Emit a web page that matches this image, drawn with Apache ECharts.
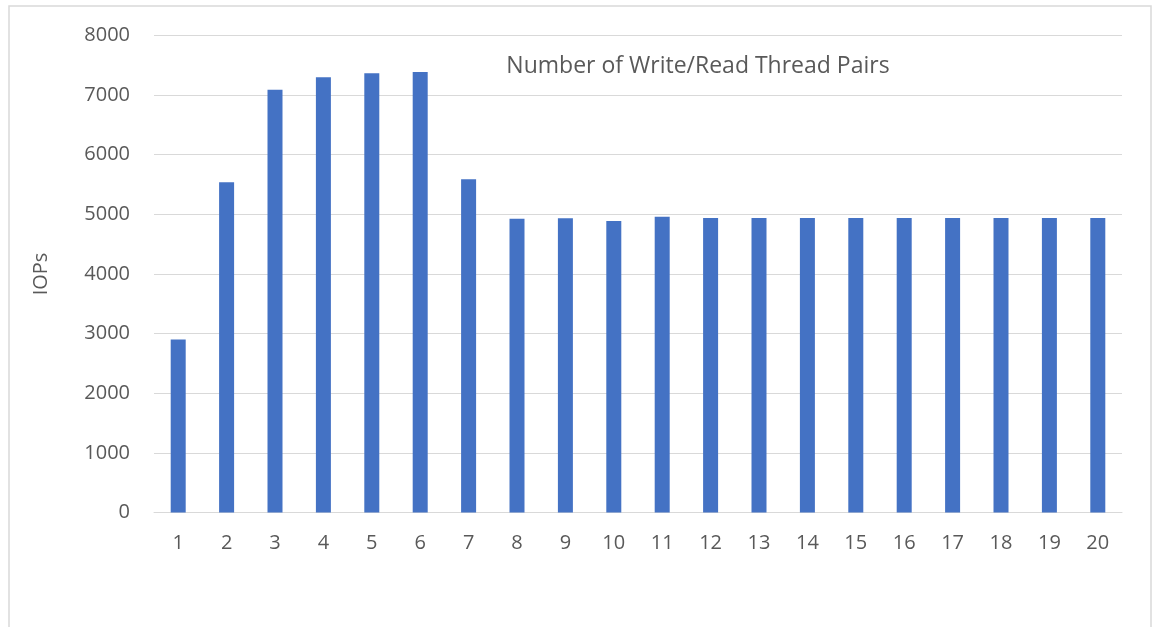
<!DOCTYPE html>
<html>
<head>
<meta charset="utf-8">
<script src="https://cdn.jsdelivr.net/npm/echarts@6/dist/echarts.min.js"></script>
<style>
html,body{margin:0;padding:0;background:#fff;}
#c{width:1152px;height:627px;}
</style>
</head>
<body>
<div id="c"></div>
<script>
const categories = ['1','2','3','4','5','6','7','8','9','10','11','12','13','14','15','16','17','18','19','20'];
const iops = [2900, 5540, 7090, 7300, 7365, 7385, 5590, 4925, 4935, 4890, 4960, 4940, 4940, 4940, 4940, 4940, 4940, 4940, 4940, 4940];
const yTicks = { min: 0, max: 8000, interval: 1000 };
const chartTitle = 'Number of Write/Read Thread Pairs';
const yName = 'IOPs';

const chart = echarts.init(document.getElementById('c'));
const font = 'Open Sans, Liberation Sans, sans-serif';
chart.setOption({
  animation: false,
  backgroundColor: '#fff',
  graphic: [{
    type: 'rect',
    shape: { x: 9, y: 6, width: 1142, height: 640 },
    style: { fill: 'none', stroke: '#d9d9d9', lineWidth: 1.5 },
    silent: true
  }],
  title: {
    text: chartTitle,
    left: 693, top: 50, textAlign: 'center',
    textStyle: { fontFamily: font, fontSize: 23, fontWeight: 'normal', color: '#595959' }
  },
  grid: { left: 154, right: 30, top: 35.4, bottom: 114.4, containLabel: false },
  xAxis: {
    type: 'category',
    data: categories,
    axisLine: { lineStyle: { color: '#d9d9d9', width: 1 } },
    axisTick: { show: false },
    axisLabel: { fontFamily: font, fontSize: 20, color: '#595959', margin: 21 }
  },
  yAxis: {
    type: 'value',
    min: yTicks.min, max: yTicks.max, interval: yTicks.interval,
    name: yName,
    nameLocation: 'middle',
    nameGap: 103,
    nameTextStyle: { fontFamily: font, fontSize: 20, color: '#595959' },
    axisLine: { show: false },
    axisTick: { show: false },
    splitLine: { lineStyle: { color: '#d9d9d9', width: 1 } },
    axisLabel: { fontFamily: font, fontSize: 20, color: '#595959', margin: 24, formatter: v => String(v) }
  },
  series: [{
    type: 'bar',
    data: iops,
    barWidth: 15,
    itemStyle: { color: '#4472C4' }
  }]
});
</script>
</body>
</html>
